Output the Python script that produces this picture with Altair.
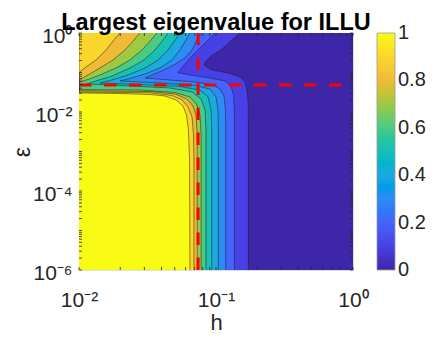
import altair as alt
import pandas as pd
import math

# ---------------- data ----------------
H_RANGE = [0.01, 1.0]
EPS_RANGE = [1e-6, 1.0]

LEVELS = [0.0, 0.1, 0.2, 0.3, 0.4, 0.5, 0.6, 0.7, 0.8, 0.9, 1.0]
PARULA_AT_LEVELS = ["#3E26A8", "#4741E5", "#4563FD", "#2D8CF3", "#1CA9DF",
                    "#19BFB6", "#4ACB84", "#9DC943", "#F0BA36", "#FAD62D", "#F9FB15"]

# contour lines: (log10 h, log10 eps), region >= level lies to the left
C_00 = [(0.000, 0.000), (0.000, -6.000)]
C_01 = [(-0.825, 0.000), (-0.883, -0.177), (-0.964, -0.430), (-1.036, -0.582), (-1.073, -0.709),
        (-1.088, -0.810), (-1.029, -0.937), (-0.912, -1.013), (-0.825, -1.114), (-0.788, -1.241),
        (-0.774, -1.443), (-0.766, -1.696), (-0.764, -2.203), (-0.764, -6.000)]
C_02 = [(-1.007, 0.000), (-1.058, -0.177), (-1.117, -0.380), (-1.175, -0.582), (-1.226, -0.785),
        (-1.263, -0.937), (-1.277, -1.005), (-1.190, -1.063), (-1.044, -1.139), (-0.934, -1.215),
        (-0.891, -1.342), (-0.872, -1.570), (-0.866, -1.949), (-0.866, -6.000)]
C_03 = [(-1.109, 0.000), (-1.139, -0.177), (-1.175, -0.430), (-1.226, -0.633), (-1.321, -0.835),
        (-1.423, -1.000), (-1.518, -1.139), (-1.336, -1.190), (-1.153, -1.241), (-1.029, -1.304),
        (-0.971, -1.418), (-0.942, -1.595), (-0.931, -1.949), (-0.929, -2.456), (-0.929, -6.000)]
C_04 = [(-1.190, 0.000), (-1.219, -0.177), (-1.263, -0.430), (-1.321, -0.684), (-1.409, -0.886),
        (-1.518, -1.038), (-1.628, -1.152), (-1.701, -1.215), (-1.409, -1.266), (-1.153, -1.329),
        (-1.044, -1.418), (-1.000, -1.620), (-0.985, -1.949), (-0.983, -2.456), (-0.983, -6.000)]
C_05 = [(-1.263, 0.000), (-1.299, -0.177), (-1.350, -0.430), (-1.423, -0.684), (-1.518, -0.886),
        (-1.642, -1.063), (-1.774, -1.203), (-1.847, -1.266), (-1.555, -1.304), (-1.263, -1.354),
        (-1.117, -1.443), (-1.058, -1.620), (-1.036, -1.949), (-1.031, -2.456), (-1.031, -6.000)]
C_06 = [(-1.350, 0.000), (-1.387, -0.177), (-1.445, -0.430), (-1.526, -0.684), (-1.628, -0.886),
        (-1.759, -1.089), (-1.876, -1.215), (-1.942, -1.291), (-1.628, -1.342), (-1.336, -1.392),
        (-1.175, -1.494), (-1.109, -1.671), (-1.080, -1.949), (-1.073, -2.456), (-1.073, -6.000)]
C_07 = [(-1.431, 0.000), (-1.474, -0.177), (-1.540, -0.430), (-1.628, -0.684), (-1.730, -0.886),
        (-1.847, -1.063), (-1.934, -1.177), (-2.000, -1.241), (-2.000, -1.433), (-1.555, -1.443),
        (-1.299, -1.506), (-1.190, -1.620), (-1.139, -1.823), (-1.117, -2.076), (-1.109, -2.582),
        (-1.109, -6.000)]
C_08 = [(-1.555, 0.000), (-1.599, -0.177), (-1.664, -0.430), (-1.752, -0.684), (-1.847, -0.886),
        (-1.934, -1.063), (-2.000, -1.190), (-2.000, -1.463), (-1.482, -1.481), (-1.299, -1.544),
        (-1.212, -1.671), (-1.168, -1.848), (-1.146, -2.076), (-1.137, -2.582), (-1.137, -6.000)]
C_09 = [(-1.701, 0.000), (-1.745, -0.177), (-1.803, -0.430), (-1.876, -0.684), (-1.949, -0.861),
        (-2.000, -1.000), (-2.000, -1.494), (-1.482, -1.514), (-1.321, -1.582), (-1.248, -1.696),
        (-1.204, -1.873), (-1.175, -2.127), (-1.164, -2.582), (-1.161, -3.215), (-1.161, -6.000)]
C_10 = [(-2.000, 0.000), (-2.000, -1.519), (-1.701, -1.532), (-1.482, -1.557), (-1.372, -1.595),
        (-1.292, -1.696), (-1.241, -1.848), (-1.215, -2.076), (-1.201, -2.456), (-1.193, -3.215),
        (-1.190, -6.000)]
CONTOURS = [C_00, C_01, C_02, C_03, C_04, C_05, C_06, C_07, C_08, C_09, C_10]

H_MARK = 0.074     # red dashed vertical line
EPS_MARK = 0.048   # red dashed horizontal line

X_TICKS = [0.01, 0.1, 1.0]
Y_TICKS = [1e-6, 1e-4, 1e-2, 1.0]
X_MINOR = [m * 10.0 ** e for e in (-2, -1) for m in range(2, 10)]
Y_MINOR = [m * 10.0 ** e for e in range(-6, 0) for m in range(1, 10) if 10.0 ** e * m not in Y_TICKS]

CBAR_TICKS = [0.2, 0.4, 0.6, 0.8]
CBAR_END_LABELS = ["1", "0"]

SUP = {"-": "⁻", "0": "⁰", "1": "¹", "2": "²", "3": "³", "4": "⁴", "5": "⁵", "6": "⁶"}

# ---------------- build tables ----------------
rows = []
for lev, pts in zip(LEVELS, CONTOURS):
    for i, (lh, le) in enumerate(pts):
        rows.append({"level": lev, "idx": i, "h": 10 ** lh, "h0": H_RANGE[0], "eps": 10 ** le})
df = pd.DataFrame(rows)


def label_expr(vals):
    parts = []
    for v in vals:
        e = int(round(math.log10(v)))
        s = "10" + "".join(SUP[c] for c in str(e))
        parts.append(f"round(log(datum.value)/LN10) == {e} ? '{s}'")
    return " : ".join(parts) + " : ''"


FONT = "Liberation Sans"
AX_COLOR = "#262626"
W, H = 274, 237
CB_OFFSET, CB_THICK, CB_LABEL_OFF, CB_FONT = 24, 18, 3, 20

xs = alt.Scale(type="log", domain=H_RANGE, nice=False)
ys = alt.Scale(type="log", domain=EPS_RANGE, nice=False)
cs = alt.Scale(domain=LEVELS, range=PARULA_AT_LEVELS)

xaxis = alt.Axis(values=X_TICKS, labelExpr=label_expr(X_TICKS), title="h", grid=False,
                 ticks=False, tickSize=0, domain=False, labelFontSize=21, labelFont=FONT,
                 labelColor=AX_COLOR, labelPadding=19, titleFontSize=22, titleFont=FONT,
                 titleFontWeight="normal", titleColor=AX_COLOR, titlePadding=2,
                 labelFlush=False, labelOverlap=False)
yaxis = alt.Axis(values=Y_TICKS, labelExpr=label_expr(Y_TICKS), title="ε", grid=False,
                 ticks=False, tickSize=0, domain=False, labelFontSize=21, labelFont=FONT,
                 labelColor=AX_COLOR, labelPadding=7, labelOffset=3, titleFontSize=23,
                 titleFont=FONT, titleFontWeight="normal", titleColor=AX_COLOR, titlePadding=-2,
                 labelFlush=False, labelOverlap=False, labelBaseline="middle")

legend = alt.Legend(title=None, values=CBAR_TICKS, format="~g",
                    gradientLength=H, gradientThickness=CB_THICK, labelFontSize=CB_FONT,
                    labelFont=FONT, labelColor=AX_COLOR, offset=CB_OFFSET,
                    labelOffset=CB_LABEL_OFF, padding=0,
                    gradientStrokeColor="#9a9a9a", gradientStrokeWidth=0.8,
                    direction="vertical", orient="right")

layers = []
for lev in LEVELS:
    sub = df[df.level == lev]
    layers.append(
        alt.Chart(sub).mark_area(orient="horizontal", clip=True).encode(
            x=alt.X("h0:Q", scale=xs, axis=xaxis, stack=None),
            x2="h:Q",
            y=alt.Y("eps:Q", scale=ys, axis=yaxis),
            color=alt.Color("level:Q", scale=cs, legend=legend),
        )
    )

lines = alt.Chart(df[df.level > 0]).mark_line(color="#1a1a1a", strokeWidth=0.6, clip=True,
                                               strokeOpacity=0.85).encode(
    x=alt.X("h:Q", scale=xs, axis=xaxis),
    y=alt.Y("eps:Q", scale=ys, axis=yaxis),
    detail="level:N",
    order="idx:Q",
)

red_v = alt.Chart(pd.DataFrame({"h": [H_MARK], "e1": [EPS_RANGE[0]], "e2": [EPS_RANGE[1]]})).mark_rule(
    color="#FF0000", strokeWidth=3, strokeDash=[12.5, 12.5]).encode(
    x=alt.X("h:Q", scale=xs, axis=xaxis), y=alt.Y("e1:Q", scale=ys, axis=yaxis), y2="e2:Q")
red_h = alt.Chart(pd.DataFrame({"e": [EPS_MARK], "h1": [H_RANGE[0]], "h2": [H_RANGE[1]]})).mark_rule(
    color="#FF0000", strokeWidth=3, strokeDash=[12.5, 12.5]).encode(
    y=alt.Y("e:Q", scale=ys, axis=yaxis), x=alt.X("h1:Q", scale=xs, axis=xaxis), x2="h2:Q")

xt = pd.DataFrame({"v": X_TICKS + X_MINOR})
yt = pd.DataFrame({"v": Y_TICKS + Y_MINOR})
tick_style = dict(color=AX_COLOR, strokeWidth=0.8)
ticks = [
    alt.Chart(xt).mark_rule(**tick_style).encode(x=alt.X("v:Q", scale=xs, axis=xaxis),
                                                  y=alt.value(H), y2=alt.value(H - 3)),
    alt.Chart(xt).mark_rule(**tick_style).encode(x=alt.X("v:Q", scale=xs, axis=xaxis),
                                                  y=alt.value(0), y2=alt.value(3)),
    alt.Chart(yt).mark_rule(**tick_style).encode(y=alt.Y("v:Q", scale=ys, axis=yaxis),
                                                  x=alt.value(0), x2=alt.value(3)),
    alt.Chart(yt).mark_rule(**tick_style).encode(y=alt.Y("v:Q", scale=ys, axis=yaxis),
                                                  x=alt.value(W), x2=alt.value(W - 3)),
]

# end labels of the colour bar (Vega pushes its own end labels inward)
cb_x = W + CB_OFFSET + CB_THICK + CB_LABEL_OFF
end_labels = [
    alt.Chart(pd.DataFrame({"t": [CBAR_END_LABELS[0]]})).mark_text(
        align="left", baseline="middle", font=FONT, fontSize=CB_FONT, color=AX_COLOR).encode(
        text="t:N", x=alt.value(cb_x), y=alt.value(0)),
    alt.Chart(pd.DataFrame({"t": [CBAR_END_LABELS[1]]})).mark_text(
        align="left", baseline="middle", font=FONT, fontSize=CB_FONT, color=AX_COLOR).encode(
        text="t:N", x=alt.value(cb_x), y=alt.value(H)),
]

chart = alt.layer(*layers, lines, red_v, red_h, *ticks, *end_labels).properties(
    width=W, height=H,
    title=alt.Title("Largest eigenvalue for ILLU", fontSize=23.5, fontWeight="bold", font=FONT,
                    color="#000000", anchor="middle", frame="group", offset=6, dy=17),
    padding={"left": 71, "top": 25, "right": 77, "bottom": 64},
    autosize=alt.AutoSizeParams(type="none"),
).configure_view(stroke=AX_COLOR, strokeWidth=1).configure(font=FONT, background="white")

chart.save("out.html", embed_options={"renderer": "svg", "actions": False})
